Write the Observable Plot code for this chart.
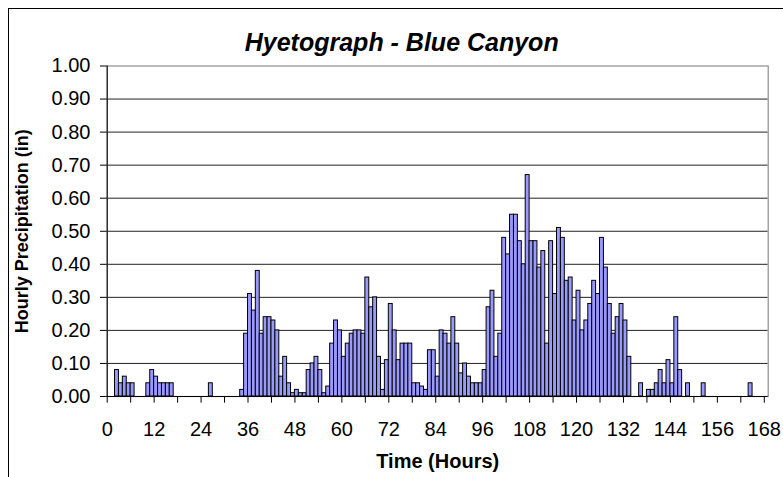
<!DOCTYPE html>
<html><head><meta charset="utf-8">
<script src="https://cdn.jsdelivr.net/npm/d3@7"></script>
<script src="https://cdn.jsdelivr.net/npm/@observablehq/plot@0.6"></script>
<style>
html,body{margin:0;padding:0;background:#fff;overflow:hidden;}
#wrap{position:relative;width:783px;height:477px;overflow:hidden;}
#border{position:absolute;left:8px;top:8px;width:900px;height:600px;border:1px solid #000;pointer-events:none;}
</style></head>
<body><div id="wrap"><div id="chart"></div><div id="border"></div></div>
<script>
const title = "Hyetograph - Blue Canyon";
const xTitle = "Time (Hours)";
const yTitle = "Hourly Precipitation (in)";

const hours = [2,3,4,5,6,10,11,12,13,14,15,16,26,
  34,35,36,37,38,39,40,41,42,43,44,45,46,47,48,49,50,51,52,53,54,55,56,57,58,59,
  60,61,62,63,64,65,66,67,68,69,70,71,72,73,74,75,76,77,78,79,80,81,82,83,84,85,
  86,87,88,89,90,91,92,93,94,95,96,97,98,99,100,101,102,103,104,105,106,107,108,
  109,110,111,112,113,114,115,116,117,118,119,120,121,122,123,124,125,126,127,128,
  129,130,131,132,133,136,138,139,140,141,142,143,144,145,146,148,152,164];
const precip = [0.08,0.04,0.06,0.04,0.04,0.04,0.08,0.06,0.04,0.04,0.04,0.04,0.04,
  0.02,0.19,0.31,0.26,0.38,0.19,0.24,0.24,0.23,0.20,0.06,0.12,0.04,0.01,0.02,0.01,0.01,0.08,0.10,0.12,0.08,0.01,0.03,0.16,0.23,0.20,
  0.12,0.16,0.19,0.20,0.20,0.19,0.36,0.27,0.30,0.12,0.02,0.11,0.28,0.20,0.11,0.16,0.16,0.16,0.04,0.04,0.03,0.02,0.14,0.14,0.06,0.20,
  0.19,0.16,0.24,0.16,0.07,0.10,0.06,0.04,0.04,0.04,0.08,0.27,0.32,0.12,0.19,0.48,0.43,0.55,0.55,0.47,0.40,0.67,0.47,
  0.47,0.39,0.44,0.16,0.47,0.31,0.51,0.48,0.35,0.36,0.23,0.32,0.20,0.23,0.28,0.35,0.31,0.48,0.39,0.28,
  0.19,0.24,0.28,0.23,0.12,0.04,0.02,0.02,0.04,0.08,0.04,0.11,0.04,0.24,0.08,0.04,0.04,0.04];

const yTicks = [0,0.1,0.2,0.3,0.4,0.5,0.6,0.7,0.8,0.9,1.0];
const yGrid = [0.1,0.2,0.3,0.4,0.5,0.6,0.7,0.8,0.9];
const xTickMarks = [0,6,12,18,24,30,36,42,48,54,60,66,72,78,84,90,96,102,108,114,120,126,132,138,144,150,156,162,168];
const xTickLabels = [0,12,24,36,48,60,72,84,96,108,120,132,144,156,168];

const data = hours.map((h, i) => ({h, h2: h + 1, v: precip[i]}));
const font = "'Liberation Sans', Arial, sans-serif";

const chart = Plot.plot({
  width: 783, height: 477,
  marginLeft: 106.7, marginRight: 15.3, marginTop: 65.5, marginBottom: 81,
  x: {domain: [0, 169]},
  y: {domain: [0, 1]},
  style: {fontFamily: font, background: "white", color: "black", overflow: "visible"},
  marks: [
    Plot.gridY(yGrid, {stroke: "#222", strokeOpacity: 1, strokeWidth: 1}),
    Plot.frame({stroke: "#8c8c8c", strokeWidth: 1.2}),
    Plot.rect(data, {x1: "h", x2: "h2", y1: 0, y2: "v", fill: "#9999FF", stroke: "black", strokeWidth: 1}),
    Plot.ruleX([0], {stroke: "black", strokeWidth: 1}),
    Plot.ruleY([0], {stroke: "black", strokeWidth: 1}),
    Plot.axisY(yTicks, {tickFormat: d3.format(".2f"), tickSize: 6.7, tickPadding: 10, fontSize: 20, label: null, stroke: "black"}),
    Plot.axisX(xTickMarks, {tickFormat: () => "", tickSize: 6.7, label: null, stroke: "black"}),
    Plot.axisX(xTickLabels, {tickSize: 0, tickPadding: 25.5, fontSize: 20, label: null}),
    Plot.text([title], {text: d => d, frameAnchor: "top", dx: -36, dy: -15.5, lineAnchor: "bottom", fontSize: 25, fontWeight: "bold", fontStyle: "italic", fill: "black"}),
    Plot.text([xTitle], {text: d => d, frameAnchor: "bottom", dy: 65, lineAnchor: "middle", textAnchor: "middle", fontSize: 20, fontWeight: "bold", fill: "black"}),
    Plot.text([yTitle], {text: d => d, frameAnchor: "left", dx: -84.5, rotate: -90, lineAnchor: "middle", textAnchor: "middle", fontSize: 18, fontWeight: "bold", fill: "black"})
  ]
});
document.getElementById("chart").appendChild(chart);
</script>
</body></html>
